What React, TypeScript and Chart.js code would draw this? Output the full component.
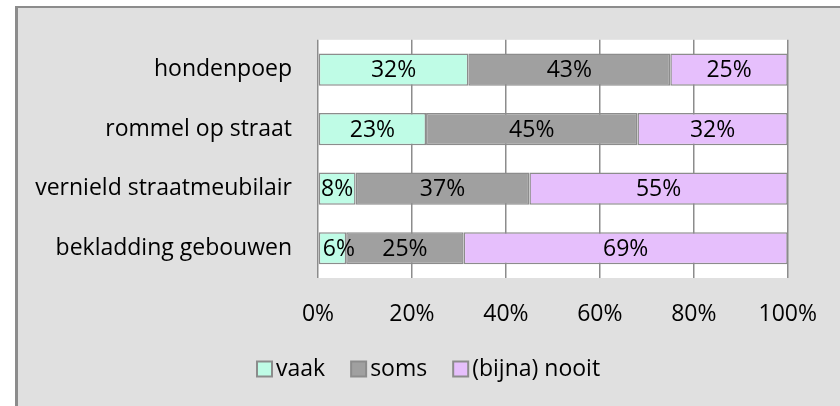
import React, { useEffect, useRef } from "react";
import { Chart, registerables } from "chart.js";

Chart.register(...registerables);

const categories = ["hondenpoep", "rommel op straat", "vernield straatmeubilair", "bekladding gebouwen"];
const seriesNames = ["vaak", "soms", "(bijna) nooit"];
const vaak = [32, 23, 8, 6];
const soms = [43, 45, 37, 25];
const nooit = [25, 32, 55, 69];
const tickValues = [0, 20, 40, 60, 80, 100];

const colors = ["#BFFCE6", "#A0A0A0", "#E6BFFC"];
const FONT = "'Open Sans', sans-serif";
const FS = 23;

const plotBg = {
  id: "plotBg",
  beforeDraw(chart: any) {
    const { ctx, chartArea } = chart;
    ctx.save();
    ctx.fillStyle = "#ffffff";
    ctx.fillRect(chartArea.left, chartArea.top, chartArea.right - chartArea.left, chartArea.bottom - chartArea.top);
    ctx.restore();
  },
};

const valueLabels = {
  id: "valueLabels",
  afterDatasetsDraw(chart: any) {
    const { ctx } = chart;
    ctx.save();
    ctx.font = `${FS}px ${FONT}`;
    ctx.fillStyle = "#000";
    ctx.textAlign = "center";
    ctx.textBaseline = "middle";
    chart.data.datasets.forEach((ds: any, di: number) => {
      const meta = chart.getDatasetMeta(di);
      meta.data.forEach((el: any, i: number) => {
        const txt = ds.data[i] + "%";
        const w = ctx.measureText(txt).width;
        const left = Math.min(el.x, el.base);
        const seg = Math.abs(el.x - el.base);
        let cx = (el.x + el.base) / 2;
        if (w > seg) cx = left + 4 + w / 2;
        ctx.fillText(txt, cx, el.y + 1);
      });
    });
    ctx.restore();
  },
};

const customLegend = {
  id: "customLegend",
  afterDraw(chart: any) {
    const { ctx } = chart;
    ctx.save();
    ctx.font = `${FS}px ${FONT}`;
    ctx.textBaseline = "middle";
    ctx.textAlign = "left";
    const box = 15;
    const gap = 4;
    const spacing = 26;
    const y = 369;
    let x = 257;
    chart.data.datasets.forEach((ds: any) => {
      ctx.fillStyle = ds.backgroundColor;
      ctx.fillRect(x, y - box / 2, box, box);
      ctx.strokeStyle = "#8C8C8C";
      ctx.lineWidth = 2;
      ctx.strokeRect(x, y - box / 2, box, box);
      ctx.fillStyle = "#000";
      const tx = x + box + gap;
      ctx.fillText(ds.label, tx, y);
      x = tx + ctx.measureText(ds.label).width + spacing;
    });
    ctx.restore();
  },
};

export default function App() {
  const ref = useRef<HTMLCanvasElement>(null);
  useEffect(() => {
    if (!ref.current) return;
    const chart = new Chart(ref.current, {
      type: "bar",
      data: {
        labels: categories,
        datasets: [
          { label: seriesNames[0], data: vaak, backgroundColor: colors[0] },
          { label: seriesNames[1], data: soms, backgroundColor: colors[1] },
          { label: seriesNames[2], data: nooit, backgroundColor: colors[2] },
        ].map((d) => ({
          ...d,
          borderColor: "#8C8C8C",
          borderWidth: 1.5,
          borderSkipped: false,
          barPercentage: 0.54,
          categoryPercentage: 1,
        })),
      },
      options: {
        indexAxis: "y",
        responsive: false,
        animation: false,
        devicePixelRatio: 1,
        layout: { padding: { top: 35, right: 51, left: 0, bottom: 0 } },
        plugins: {
          legend: { display: false },
          tooltip: { enabled: false },
          title: { display: false },
        },
        scales: {
          x: {
            stacked: true,
            min: 0,
            max: 100,
            afterBuildTicks(scale: any) {
              scale.ticks = tickValues.map((v) => ({ value: v }));
            },
            afterFit(scale: any) {
              scale.height = 128;
            },
            grid: { color: "#8C8C8C", lineWidth: 1.5, drawTicks: false },
            border: { display: false },
            ticks: {
              color: "#000",
              font: { family: FONT, size: FS },
              padding: 23,
              maxRotation: 0,
              callback: (v: any) => v + "%",
            },
          },
          y: {
            stacked: true,
            afterFit(scale: any) {
              scale.width = 318;
            },
            grid: { display: false, drawTicks: false },
            border: { display: false },
            ticks: {
              color: "#000",
              font: { family: FONT, size: FS },
              padding: 26,
            },
          },
        },
      },
      plugins: [plotBg, valueLabels, customLegend],
    } as any);
    return () => chart.destroy();
  }, []);

  return (
    <div style={{ position: "fixed", left: 0, top: 0, width: 840, height: 406, background: "#fff", overflow: "hidden" }}>
      <div
        style={{
          position: "absolute",
          left: 15,
          top: 6,
          right: 0,
          bottom: 0,
          background: "#E0E0E0",
          borderLeft: "3px solid #8C8C8C",
          borderTop: "2px solid #8C8C8C",
        }}
      />
      <canvas ref={ref} width={840} height={406} style={{ position: "absolute", left: 0, top: 0 }} />
    </div>
  );
}
